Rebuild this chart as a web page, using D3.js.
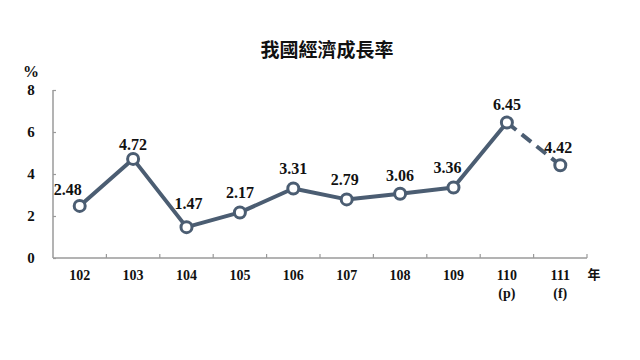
<!DOCTYPE html>
<html><head><meta charset="utf-8">
<script src="https://cdn.jsdelivr.net/npm/d3@7"></script>
<style>body{margin:0;background:#fff}svg{display:block}
.sf{font-family:"Liberation Serif","Times New Roman","DejaVu Serif",serif;font-weight:bold}</style>
</head><body>
<svg id="c" width="640" height="360"></svg>
<script>
const years = ["102","103","104","105","106","107","108","109","110","111"];
const subLabels = ["","","","","","","","","(p)","(f)"];
const growth = [2.48,4.72,1.47,2.17,3.31,2.79,3.06,3.36,6.45,4.42];
const yTicks = [0,2,4,6,8];
const labelDx = [-12,0,2,0,0,-2,0,-6,0,-2];
const labelDy = [-16,-14,-23,-19,-19,-19,-18,-19,-18,-17];

(function(){
const svg = d3.select("#c");
const color = "#4b5d72";
const pL = 53, pR = 587, pT = 90, pB = 258;
const x = d3.scaleBand().domain(years).range([pL, pR]);
const y = d3.scaleLinear().domain([0, 8]).range([pB, pT]);

svg.append("text").attr("x", 327).attr("y", 57).attr("text-anchor","middle")
  .attr("font-family","'Noto Sans CJK TC'").attr("font-weight",700).attr("font-size",19)
  .attr("fill","#111").text("我國經濟成長率");

const axisColor = "#9a9a9a";
const gy = svg.append("g").attr("transform",`translate(${pL},0)`)
  .call(d3.axisRight(y).tickValues(yTicks).tickSize(3).tickFormat(""));
gy.select(".domain").attr("stroke",axisColor).attr("stroke-width",1.5).attr("d",`M0,${pT}V${pB}`);
gy.selectAll(".tick line").attr("stroke",axisColor).attr("stroke-width",1.2);

svg.append("g").selectAll("text").data(yTicks).join("text").attr("class","sf")
  .attr("x", 31).attr("y", d => y(d) + 5).attr("text-anchor","middle")
  .attr("font-size",15).attr("fill","#111")
  .text(d => d);
svg.append("text").attr("class","sf").attr("x",31).attr("y",77).attr("text-anchor","middle")
  .attr("font-size",16).attr("fill","#111").text("%");

const gx = svg.append("g").attr("transform",`translate(0,${pB})`);
gx.append("line").attr("x1",pL).attr("x2",pR).attr("stroke",axisColor).attr("stroke-width",1.5);
gx.selectAll("line.t").data(years).join("line").attr("class","t")
  .attr("x1", d => x(d) + x.bandwidth()).attr("x2", d => x(d) + x.bandwidth())
  .attr("y1",0).attr("y2",-4).attr("stroke",axisColor).attr("stroke-width",1.2);

svg.append("g").selectAll("text").data(years).join("text").attr("class","sf")
  .attr("x", d => x(d) + x.bandwidth()/2).attr("y", 280).attr("text-anchor","middle")
  .attr("font-size",14).attr("fill","#111")
  .text(d => d);
svg.append("g").selectAll("text").data(years).join("text").attr("class","sf")
  .attr("x", d => x(d) + x.bandwidth()/2).attr("y", 298).attr("text-anchor","middle")
  .attr("font-size",14).attr("fill","#111")
  .text((d,i) => subLabels[i]);
svg.append("text").attr("x",594).attr("y",279).attr("text-anchor","middle")
  .attr("font-family","'Noto Sans CJK TC'").attr("font-weight",700).attr("font-size",13)
  .attr("fill","#111").text("年");

const pts = years.map((d,i) => ({yr:d, v:growth[i], i}));
const line = d3.line().x(d => x(d.yr) + x.bandwidth()/2).y(d => y(d.v));
svg.append("path").datum(pts.slice(0,9)).attr("d", line).attr("fill","none")
  .attr("stroke",color).attr("stroke-width",4).attr("stroke-linejoin","round");
svg.append("path").datum(pts.slice(8)).attr("d", line).attr("fill","none")
  .attr("stroke",color).attr("stroke-width",4).attr("stroke-dasharray","12,7");

svg.append("g").selectAll("circle").data(pts).join("circle")
  .attr("cx", d => x(d.yr) + x.bandwidth()/2).attr("cy", d => y(d.v)).attr("r",5.5)
  .attr("fill","#fff").attr("stroke",color).attr("stroke-width",3);

svg.append("g").selectAll("text").data(pts).join("text").attr("class","sf")
  .attr("x", d => x(d.yr) + x.bandwidth()/2 + labelDx[d.i])
  .attr("y", d => y(d.v) + labelDy[d.i] + 5).attr("text-anchor","middle")
  .attr("font-size",16).attr("fill","#111")
  .text(d => d.v.toFixed(2));
})();
</script>
</body></html>
